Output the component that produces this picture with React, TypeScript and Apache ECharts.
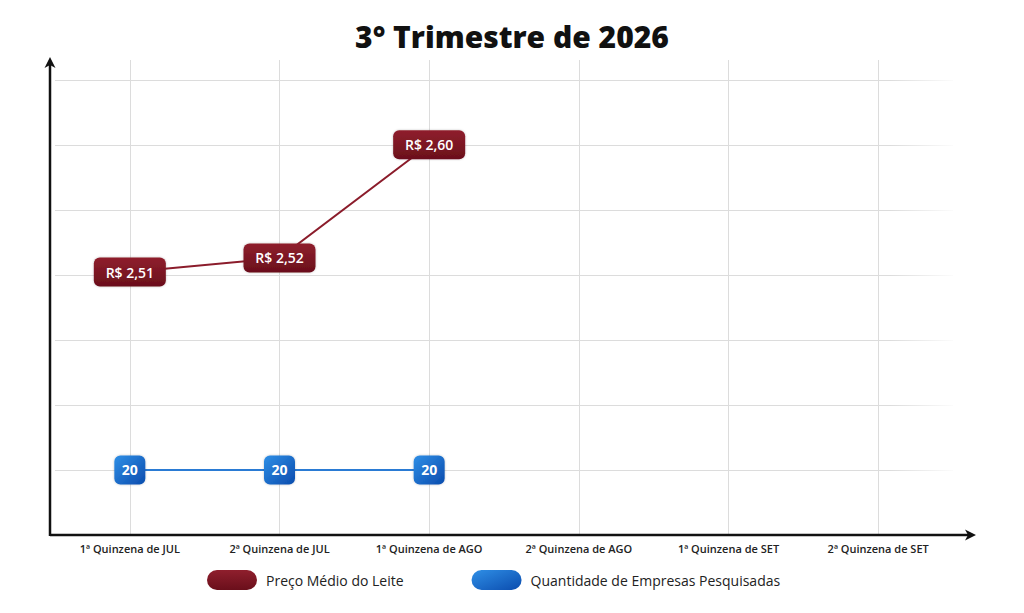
import React, { useEffect, useRef } from "react";
import * as echarts from "echarts";

const TITLE = "3° Trimestre de 2026";
const categories = [
  "1ª Quinzena de JUL",
  "2ª Quinzena de JUL",
  "1ª Quinzena de AGO",
  "2ª Quinzena de AGO",
  "1ª Quinzena de SET",
  "2ª Quinzena de SET",
];
const priceName = "Preço Médio do Leite";
const countName = "Quantidade de Empresas Pesquisadas";
const priceValues = [2.51, 2.52, 2.6, null, null, null];
const countValues = [20, 20, 20, null, null, null];

const FONT = "'Open Sans', 'Noto Sans', sans-serif";
const PILL = "path://M10,0 L40,0 A10,10 0 0 1 40,20 L10,20 A10,10 0 0 1 10,0 Z";

export default function App() {
  const ref = useRef<HTMLDivElement>(null);
  useEffect(() => {
    if (!ref.current) return;
    const chart = echarts.init(ref.current, null, { renderer: "svg" });
    const redGrad = new echarts.graphic.LinearGradient(0, 0, 0, 1, [
      { offset: 0, color: "#8f1f2d" },
      { offset: 1, color: "#6a0f1b" },
    ]);
    const blueGrad = new echarts.graphic.LinearGradient(0, 0, 1, 1, [
      { offset: 0, color: "#2f8fe6" },
      { offset: 1, color: "#0b4cae" },
    ]);
    const fadeGrid = new echarts.graphic.LinearGradient(
      890, 0, 960, 0,
      [
        { offset: 0, color: "#dcdcdc" },
        { offset: 1, color: "rgba(220,220,220,0)" },
      ],
      true
    );
    chart.setOption({
      animation: false,
      backgroundColor: "#ffffff",
      title: {
        text: TITLE,
        left: "center",
        top: 16,
        textStyle: { fontFamily: FONT, fontSize: 30, fontWeight: 800, color: "#111" },
      },
      legend: {
        left: 202,
        top: 565,
        itemWidth: 50,
        itemHeight: 20,
        itemGap: 68,
        icon: PILL,
        textStyle: { fontFamily: FONT, fontSize: 14, fontWeight: 500, color: "#222", padding: [0, 0, 0, 4] },
        data: [priceName, countName],
      },
      grid: { left: 55, right: 71, top: 60, bottom: 78, containLabel: false },
      xAxis: {
        type: "category",
        data: categories,
        boundaryGap: true,
        axisLine: { show: false },
        axisTick: { show: false, alignWithLabel: true },
        splitLine: { show: true, alignWithLabel: true, lineStyle: { color: "#dcdcdc", width: 1 } },
        axisLabel: { fontFamily: FONT, fontSize: 11, fontWeight: 600, color: "#222", margin: 8, interval: 0 },
      },
      yAxis: [
        {
          type: "value",
          min: 0,
          max: 146.15,
          interval: 20,
          axisLine: { show: false },
          axisTick: { show: false },
          axisLabel: { show: false },
          splitLine: { show: true, showMinLine: false, showMaxLine: false, lineStyle: { color: fadeGrid, width: 1 } },
        },
        {
          type: "value",
          min: 2.324,
          max: 2.66,
          axisLine: { show: false },
          axisTick: { show: false },
          axisLabel: { show: false },
          splitLine: { show: false },
        },
      ],
      series: [
        {
          name: priceName,
          type: "line",
          yAxisIndex: 1,
          data: priceValues,
          symbol: "circle",
          symbolSize: 4,
          itemStyle: { color: redGrad },
          lineStyle: { color: "#8b1c2b", width: 2 },
          label: {
            show: true,
            position: "inside",
            formatter: (p: any) => "R$ " + Number(p.value).toFixed(2).replace(".", ","),
            fontFamily: FONT,
            fontSize: 14,
            fontWeight: 600,
            color: "#fff",
            backgroundColor: redGrad,
            borderRadius: 6,
            padding: [7, 8],
            width: 56,
            align: "center",
            verticalAlign: "middle",
            lineHeight: 15,
            shadowBlur: 2,
            shadowColor: "rgba(0,0,0,0.25)",
          },
          z: 3,
        },
        {
          name: countName,
          type: "line",
          yAxisIndex: 0,
          data: countValues,
          symbol: "circle",
          symbolSize: 4,
          itemStyle: { color: blueGrad },
          lineStyle: { color: "#2a7bd4", width: 2 },
          label: {
            show: true,
            position: "inside",
            formatter: (p: any) => String(p.value),
            fontFamily: FONT,
            fontSize: 14,
            fontWeight: 700,
            color: "#fff",
            backgroundColor: blueGrad,
            borderRadius: 6,
            padding: [7, 7],
            width: 17,
            align: "center",
            verticalAlign: "middle",
            lineHeight: 15,
            shadowBlur: 2,
            shadowColor: "rgba(0,0,0,0.25)",
          },
          z: 3,
        },
      ],
      graphic: [
        {
          type: "line",
          shape: { x1: 50, y1: 535, x2: 970, y2: 535 },
          style: { stroke: "#111", lineWidth: 2.5 },
          z: 10,
        },
        {
          type: "polygon",
          shape: { points: [[976, 535], [965, 529.5], [968, 535], [965, 540.5]] },
          style: { fill: "#111" },
          z: 10,
        },
        {
          type: "line",
          shape: { x1: 50, y1: 536, x2: 50, y2: 63 },
          style: { stroke: "#111", lineWidth: 2.5 },
          z: 10,
        },
        {
          type: "polygon",
          shape: { points: [[50, 57], [44.5, 68], [50, 65], [55.5, 68]] },
          style: { fill: "#111" },
          z: 10,
        },
      ],
    });
    return () => chart.dispose();
  }, []);
  return <div ref={ref} style={{ width: 1024, height: 613, margin: -8 }} />;
}
